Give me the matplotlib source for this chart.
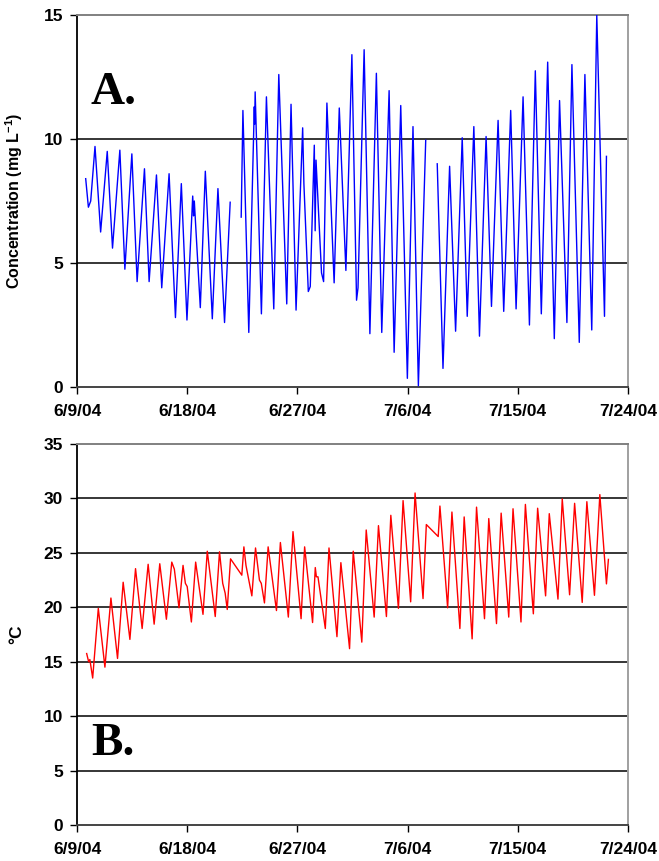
import matplotlib
matplotlib.use("Agg")
import matplotlib.pyplot as plt
import numpy as np
import pandas as pd

plt.rcParams['font.family'] = ['Liberation Sans', 'DejaVu Sans']
plt.rcParams['mathtext.fontset'] = 'custom'
plt.rcParams['mathtext.rm'] = 'Liberation Sans:bold'
plt.rcParams['mathtext.bf'] = 'Liberation Sans:bold'
plt.rcParams['mathtext.default'] = 'bf'

START = pd.Timestamp("2004-06-09")

# Concentration record: days after 6/9/04 and mg/L (NaN marks logger gaps)
conc_day = [0.71, 0.93, 1.12, 1.47, 1.93, 2.47, 2.90, 3.50, 3.91, 4.48, 4.91, 5.51,
            5.89, 6.49, 6.92, 7.52, 8.04, 8.52, 8.98, 9.45, 9.52, 9.58, 10.07, 10.48,
            11.05, 11.51, 12.05, 12.51, 12.9,
            13.41, 13.55, 14.03, 14.48, 14.51, 14.55, 15.06, 15.47, 16.07, 16.48, 17.13,
            17.48, 17.89, 18.43, 18.53, 18.89, 19.05, 19.38, 19.45, 19.52, 19.97, 20.14,
            20.41, 21.00, 21.42, 21.96, 22.45, 22.83, 22.95, 23.45, 23.92, 24.45, 24.89,
            25.49, 25.90, 26.44, 26.98, 27.44, 27.88, 28.48, 28.9,
            29.42, 29.89, 30.43, 30.92, 31.46, 31.87, 32.41, 32.87, 33.41, 33.85, 34.39,
            34.85, 35.42, 35.86, 36.43, 36.95, 37.43, 37.92, 38.44, 38.98, 39.41, 40.01,
            40.42, 41.02, 41.48, 42.04, 42.45, 43.08, 43.24]
conc_val = [8.4, 7.25, 7.5, 9.7, 6.25, 9.5, 5.6, 9.55, 4.75, 9.4, 4.25, 8.8,
            4.25, 8.55, 4.0, 8.6, 2.8, 8.2, 2.7, 7.7, 6.9, 7.5, 3.2, 8.7,
            2.75, 8.0, 2.6, 7.45, np.nan,
            6.85, 11.15, 2.2, 11.3, 10.6, 11.9, 2.95, 11.7, 3.15, 12.6, 3.35,
            11.4, 3.1, 10.45, 8.2, 3.85, 4.05, 9.75, 6.3, 9.15, 4.6, 4.25,
            11.45, 4.2, 11.25, 4.7, 13.4, 3.5, 4.0, 13.6, 2.15, 12.65, 2.2,
            11.95, 1.4, 11.35, 0.35, 10.5, 0.05, 9.95, np.nan,
            9.0, 0.75, 8.9, 2.25, 10.05, 2.85, 10.5, 2.05, 10.1, 3.25, 10.75,
            3.05, 11.15, 3.15, 11.7, 2.5, 12.75, 2.95, 13.1, 1.95, 11.55, 2.6,
            13.0, 1.8, 12.6, 2.3, 15.0, 2.85, 9.3]

# Water temperature record: days after 6/9/04 and degrees C
temp_day = [0.79, 0.95, 1.05, 1.28, 1.74, 2.28, 2.77, 3.31, 3.77, 4.32, 4.78, 5.32,
            5.81, 6.30, 6.76, 7.30, 7.74, 7.95, 8.33, 8.66, 8.85, 9.00, 9.34, 9.69,
            10.29, 10.64, 11.29, 11.64, 11.90, 12.10, 12.27, 12.54, 13.46, 13.63, 13.80,
            14.28, 14.58, 14.90, 15.05, 15.31, 15.61, 16.29, 16.61, 17.26, 17.64, 18.30,
            18.59, 19.24, 19.46, 19.55, 19.68, 20.28, 20.58, 21.23, 21.55, 22.26, 22.56,
            23.26, 23.62, 24.27, 24.62, 25.27, 25.63, 26.25, 26.63, 27.25, 27.61, 28.26,
            28.53, 29.50, 29.64, 30.27, 30.62, 31.27, 31.62, 32.27, 32.63, 33.28, 33.63,
            34.26, 34.64, 35.26, 35.61, 36.26, 36.62, 37.27, 37.62, 38.27, 38.57, 39.28,
            39.63, 40.23, 40.64, 41.26, 41.64, 42.26, 42.70, 43.24, 43.40]
temp_val = [15.75, 15.0, 15.2, 13.5, 19.9, 14.5, 20.85, 15.3, 22.3, 17.05, 23.55, 18.05,
            23.95, 18.45, 24.0, 18.9, 24.15, 23.5, 19.95, 23.85, 22.2, 21.9, 18.65, 24.15,
            19.35, 25.15, 19.15, 25.1, 22.2, 21.3, 19.8, 24.45, 22.95, 25.55, 23.85,
            21.05, 25.45, 22.5, 22.2, 20.4, 25.55, 19.7, 25.95, 19.1, 26.95, 18.95,
            25.55, 18.6, 23.65, 22.8, 22.8, 18.05, 25.45, 17.3, 24.1, 16.2, 25.15,
            16.8, 27.1, 19.1, 27.5, 19.15, 28.45, 19.9, 29.8, 20.5, 30.5, 20.8,
            27.6, 26.5, 29.3, 19.95, 28.75, 18.05, 28.3, 17.1, 29.2, 18.95, 28.15,
            18.5, 28.65, 19.1, 29.05, 18.65, 29.45, 19.4, 29.1, 21.05, 28.6, 20.75,
            29.95, 21.15, 29.55, 20.45, 29.7, 21.1, 30.35, 22.15, 24.4]

date_ticks = ["6/9/04", "6/18/04", "6/27/04", "7/6/04", "7/15/04", "7/24/04"]
conc_ticks = [0, 5, 10, 15]
temp_ticks = [0, 5, 10, 15, 20, 25, 30, 35]


def to_time(days):
    return START + pd.to_timedelta(np.asarray(days, dtype=float), unit="D")


tick_times = [pd.to_datetime(s, format="%m/%d/%y") for s in date_ticks]

fig = plt.figure(figsize=(6.59, 8.61), dpi=100)
W, H = 659, 861


def make_axes(top_px, bottom_px):
    left, right = 77, 628
    return fig.add_axes([left / W, 1 - bottom_px / H, (right - left) / W,
                         (bottom_px - top_px) / H])


def style(ax, yticks, ylabel, ylabel_size):
    ax.set_xlim(tick_times[0], tick_times[-1])
    ax.set_ylim(yticks[0], yticks[-1])
    ax.set_xticks(tick_times)
    ax.set_xticklabels(date_ticks)
    ax.set_yticks(yticks)
    ax.set_yticklabels([str(v) for v in yticks])
    for v in yticks[1:-1]:
        ax.axhline(v, color='black', lw=1.1, zorder=1)
    ax.spines['left'].set_color('black')
    ax.spines['left'].set_linewidth(1.3)
    ax.spines['bottom'].set_color('#444444')
    ax.spines['bottom'].set_linewidth(1.4)
    ax.spines['top'].set_color('#808080')
    ax.spines['top'].set_linewidth(1.4)
    ax.spines['right'].set_color('#a0a0a0')
    ax.spines['right'].set_linewidth(1.4)
    ax.tick_params(axis='both', direction='out', length=5, width=1.0,
                   labelsize=12.5, colors='black')
    ax.tick_params(axis='x', pad=7)
    ax.tick_params(axis='y', pad=5)
    for lab in ax.get_xticklabels() + ax.get_yticklabels():
        lab.set_fontweight('bold')
    ax.set_ylabel(ylabel, fontsize=ylabel_size, fontweight='bold')


ax1 = make_axes(15, 387)
ax1.plot(to_time(conc_day), conc_val, color='#0000ff', lw=1.0, zorder=3)
style(ax1, conc_ticks, 'Concentration (mg L$^{-1}$)', 11.5)
ax1.yaxis.set_label_coords(-0.095, 0.5)
ax1.text(0.025, 0.76, 'A.', transform=ax1.transAxes, fontsize=34,
         fontweight='bold', family='Liberation Serif', va='baseline')

ax2 = make_axes(444, 825)
ax2.plot(to_time(temp_day), temp_val, color='#ff0000', lw=1.0, zorder=3)
style(ax2, temp_ticks, '°C', 12.5)
ax2.yaxis.set_label_coords(-0.095, 0.5)
ax2.text(0.025, 0.183, 'B.', transform=ax2.transAxes, fontsize=34,
         fontweight='bold', family='Liberation Serif', va='baseline')

fig.savefig('out.png', dpi=100)
